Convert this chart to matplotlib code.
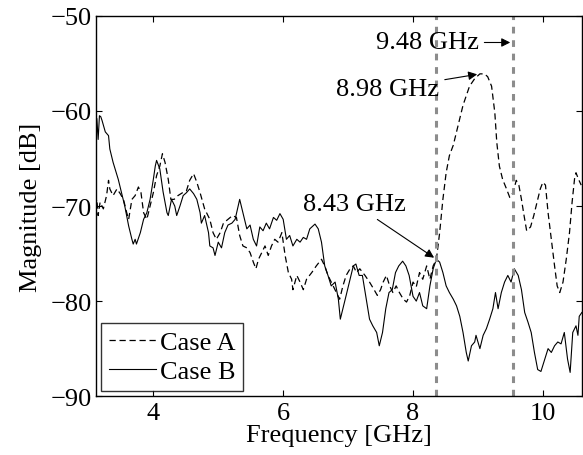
import numpy as np
import matplotlib
matplotlib.use('Agg')
import matplotlib.pyplot as plt

plt.rcParams['font.family'] = ['Liberation Serif', 'DejaVu Serif']
plt.rcParams['mathtext.fontset'] = 'stix'

# Case A (dashed)
freq_a = [3.10, 3.13, 3.15, 3.18, 3.23, 3.28, 3.31, 3.33, 3.38, 3.44, 3.49, 3.54, 3.59, 3.62, 3.67,
          3.72, 3.77, 3.81, 3.85, 3.90, 3.95, 4.00, 4.05, 4.10, 4.14, 4.18, 4.23, 4.27, 4.32, 4.38,
          4.45, 4.51, 4.56, 4.62, 4.67, 4.72, 4.79, 4.87, 4.92, 4.97, 5.03, 5.08, 5.15, 5.22, 5.28,
          5.33, 5.38, 5.44, 5.49, 5.54, 5.58, 5.62, 5.67, 5.72, 5.77, 5.82, 5.87, 5.92, 5.98, 6.03,
          6.08, 6.13, 6.15, 6.21, 6.26, 6.31, 6.36, 6.44, 6.51, 6.59, 6.64, 6.69, 6.74, 6.82, 6.87,
          6.92, 6.97, 7.03, 7.08, 7.13, 7.18, 7.26, 7.33, 7.40, 7.45, 7.50, 7.54, 7.59, 7.64, 7.69,
          7.74, 7.79, 7.85, 7.90, 7.95, 8.00, 8.05, 8.10, 8.15, 8.21, 8.26, 8.31, 8.36, 8.41, 8.46,
          8.51, 8.56, 8.62, 8.67, 8.72, 8.77, 8.82, 8.87, 8.95, 9.03, 9.10, 9.15, 9.21, 9.26, 9.29,
          9.33, 9.38, 9.44, 9.49, 9.54, 9.59, 9.63, 9.67, 9.71, 9.75, 9.81, 9.86, 9.91, 9.96, 10.00,
          10.04, 10.08, 10.13, 10.18, 10.22, 10.26, 10.31, 10.36, 10.41, 10.45, 10.49, 10.51, 10.55, 10.59]
mag_a = [-70.0, -69.3, -71.0, -69.6, -70.3, -68.9, -67.3, -68.2, -68.9, -68.2, -68.7, -69.3, -70.7, -71.4, -69.3,
         -68.9, -68.0, -68.6, -70.7, -71.4, -70.0, -68.6, -66.8, -65.8, -64.5, -65.4, -67.2, -69.3, -69.3, -68.9,
         -68.6, -68.4, -67.3, -66.6, -67.5, -68.6, -70.3, -71.4, -72.8, -73.5, -72.8, -71.8, -71.4, -71.0, -71.2,
         -73.1, -74.2, -74.4, -74.9, -75.9, -76.6, -75.6, -74.9, -74.2, -75.2, -74.2, -73.5, -73.8, -72.8, -75.2,
         -77.0, -77.7, -78.8, -77.3, -78.0, -78.8, -77.7, -77.0, -76.3, -75.6, -76.3, -77.3, -78.0, -79.1, -79.8,
         -78.4, -77.3, -76.6, -76.3, -77.0, -76.6, -77.3, -78.0, -78.8, -79.4, -78.8, -78.0, -77.3, -78.4, -79.1,
         -78.4, -79.1, -79.8, -80.1, -79.4, -78.0, -78.5, -77.0, -77.7, -76.3, -77.7, -76.3, -75.6, -72.8, -69.3,
         -66.5, -64.7, -63.6, -62.2, -60.8, -59.4, -58.4, -57.4, -56.6, -56.1, -56.1, -56.4, -57.4, -60.2, -63.3,
         -65.8, -67.2, -68.2, -69.1, -68.6, -67.3, -67.8, -69.3, -71.0, -72.6, -72.2, -71.0, -69.6, -68.2, -67.5,
         -67.8, -70.7, -73.5, -76.3, -78.4, -79.1, -78.0, -75.6, -72.8, -69.6, -67.0, -66.5, -67.2, -67.8]

# Case B (solid)
freq_b = [3.12, 3.13, 3.15, 3.17, 3.19, 3.21, 3.26, 3.31, 3.33, 3.38, 3.46, 3.51, 3.56, 3.62, 3.67,
          3.69, 3.72, 3.74, 3.80, 3.85, 3.90, 3.95, 4.00, 4.03, 4.05, 4.10, 4.15, 4.21, 4.23, 4.28,
          4.33, 4.36, 4.41, 4.46, 4.51, 4.56, 4.62, 4.67, 4.72, 4.74, 4.79, 4.85, 4.87, 4.92, 4.95,
          5.00, 5.05, 5.10, 5.15, 5.21, 5.26, 5.33, 5.38, 5.44, 5.49, 5.54, 5.59, 5.64, 5.69, 5.74,
          5.79, 5.85, 5.90, 5.95, 6.00, 6.05, 6.10, 6.15, 6.21, 6.26, 6.31, 6.36, 6.41, 6.49, 6.54,
          6.59, 6.64, 6.69, 6.74, 6.80, 6.85, 6.88, 6.92, 6.97, 7.03, 7.08, 7.12, 7.17, 7.22, 7.28,
          7.33, 7.38, 7.44, 7.48, 7.53, 7.58, 7.63, 7.68, 7.73, 7.78, 7.84, 7.89, 7.94, 8.00, 8.05,
          8.10, 8.15, 8.21, 8.26, 8.31, 8.36, 8.41, 8.46, 8.51, 8.56, 8.62, 8.67, 8.72, 8.77, 8.82,
          8.85, 8.90, 8.95, 8.97, 9.03, 9.08, 9.13, 9.18, 9.23, 9.27, 9.31, 9.36, 9.41, 9.46, 9.51,
          9.56, 9.62, 9.67, 9.72, 9.77, 9.82, 9.87, 9.92, 9.97, 10.03, 10.08, 10.13, 10.18, 10.23, 10.28,
          10.33, 10.38, 10.42, 10.46, 10.51, 10.54, 10.56, 10.60]
mag_b = [-63.5, -60.8, -63.0, -60.5, -60.6, -61.0, -62.2, -62.6, -64.0, -65.4, -67.2, -68.6, -70.0, -72.1, -73.5,
         -74.0, -73.5, -74.0, -72.8, -71.4, -70.7, -69.3, -67.2, -65.8, -65.2, -66.1, -68.5, -70.7, -71.0, -69.3,
         -70.0, -71.0, -70.0, -68.9, -68.6, -68.2, -68.7, -69.3, -70.7, -71.8, -71.0, -72.8, -74.2, -74.4, -75.2,
         -73.8, -74.4, -72.8, -72.0, -71.8, -71.4, -69.3, -70.7, -72.4, -72.0, -73.5, -74.2, -72.2, -72.6, -71.8,
         -72.4, -71.2, -71.5, -70.8, -71.4, -73.5, -73.1, -74.2, -73.5, -73.8, -73.3, -73.5, -72.4, -71.9, -72.4,
         -73.8, -76.3, -77.3, -78.4, -78.0, -79.8, -81.9, -80.8, -79.4, -77.7, -76.3, -76.1, -77.3, -77.3, -79.8,
         -81.9, -82.6, -83.3, -84.7, -83.3, -80.8, -79.1, -78.8, -77.0, -76.3, -75.8, -76.3, -77.3, -79.5, -80.0,
         -79.1, -80.5, -80.8, -78.4, -76.6, -75.6, -75.9, -77.0, -78.4, -79.1, -79.8, -80.5, -81.6, -83.3, -85.4,
         -86.3, -84.7, -84.3, -83.6, -85.0, -83.6, -82.9, -81.9, -80.8, -79.1, -80.8, -79.1, -78.0, -77.3, -78.0,
         -76.6, -77.3, -78.8, -81.2, -82.2, -83.3, -85.4, -87.2, -87.4, -86.1, -85.0, -85.4, -84.7, -84.3, -84.5,
         -83.3, -86.1, -87.5, -83.3, -82.6, -83.6, -81.6, -81.2]

marker_lines = [8.36, 9.54]

fs = 19

fig = plt.figure(figsize=(5.83, 4.56), dpi=100)
ax = fig.add_axes([0.165, 0.129, 0.833, 0.834])

ax.plot(freq_a, mag_a, color='k', linestyle=(0, (5, 3)), linewidth=0.9, label='Case A')
ax.plot(freq_b, mag_b, color='k', linestyle='-', linewidth=0.8, label='Case B')

for xv in marker_lines:
    ax.axvline(xv, color='#8c8c8c', linestyle=(0, (2.2, 2.2)), linewidth=2.2)

arrow = dict(arrowstyle='-|>', color='k', lw=0.8, mutation_scale=13)
ax.annotate('8.43 GHz', xy=(8.36, -75.6), xytext=(7.10, -69.8),
            ha='center', va='center', fontsize=fs, arrowprops=arrow)
ax.annotate('8.98 GHz', xy=(9.03, -56.1), xytext=(7.61, -57.7),
            ha='center', va='center', fontsize=fs, arrowprops=arrow)
ax.annotate('9.48 GHz', xy=(9.54, -52.8), xytext=(8.22, -52.8),
            ha='center', va='center', fontsize=fs, arrowprops=arrow)

ax.set_xlim(3.12, 10.6)
ax.set_ylim(-90, -50)
ax.set_xticks([4, 6, 8, 10])
ax.set_yticks([-90, -80, -70, -60, -50])
ax.tick_params(direction='in', top=True, right=True, labelsize=fs, length=4)
ax.tick_params(axis='x', pad=4)
ax.tick_params(axis='y', pad=3)
ax.set_xlabel('Frequency [GHz]', fontsize=fs, labelpad=0)
ax.set_ylabel('Magnitude [dB]', fontsize=fs, labelpad=6)
for s in ax.spines.values():
    s.set_linewidth(1.0)

leg = ax.legend(loc='lower left', fontsize=fs, frameon=True, fancybox=False,
                edgecolor='k', handlelength=1.75, borderpad=0.3, labelspacing=0.2,
                handletextpad=0.15, borderaxespad=0.2)
leg.get_frame().set_linewidth(1.0)

fig.savefig('out.png', dpi=100)
